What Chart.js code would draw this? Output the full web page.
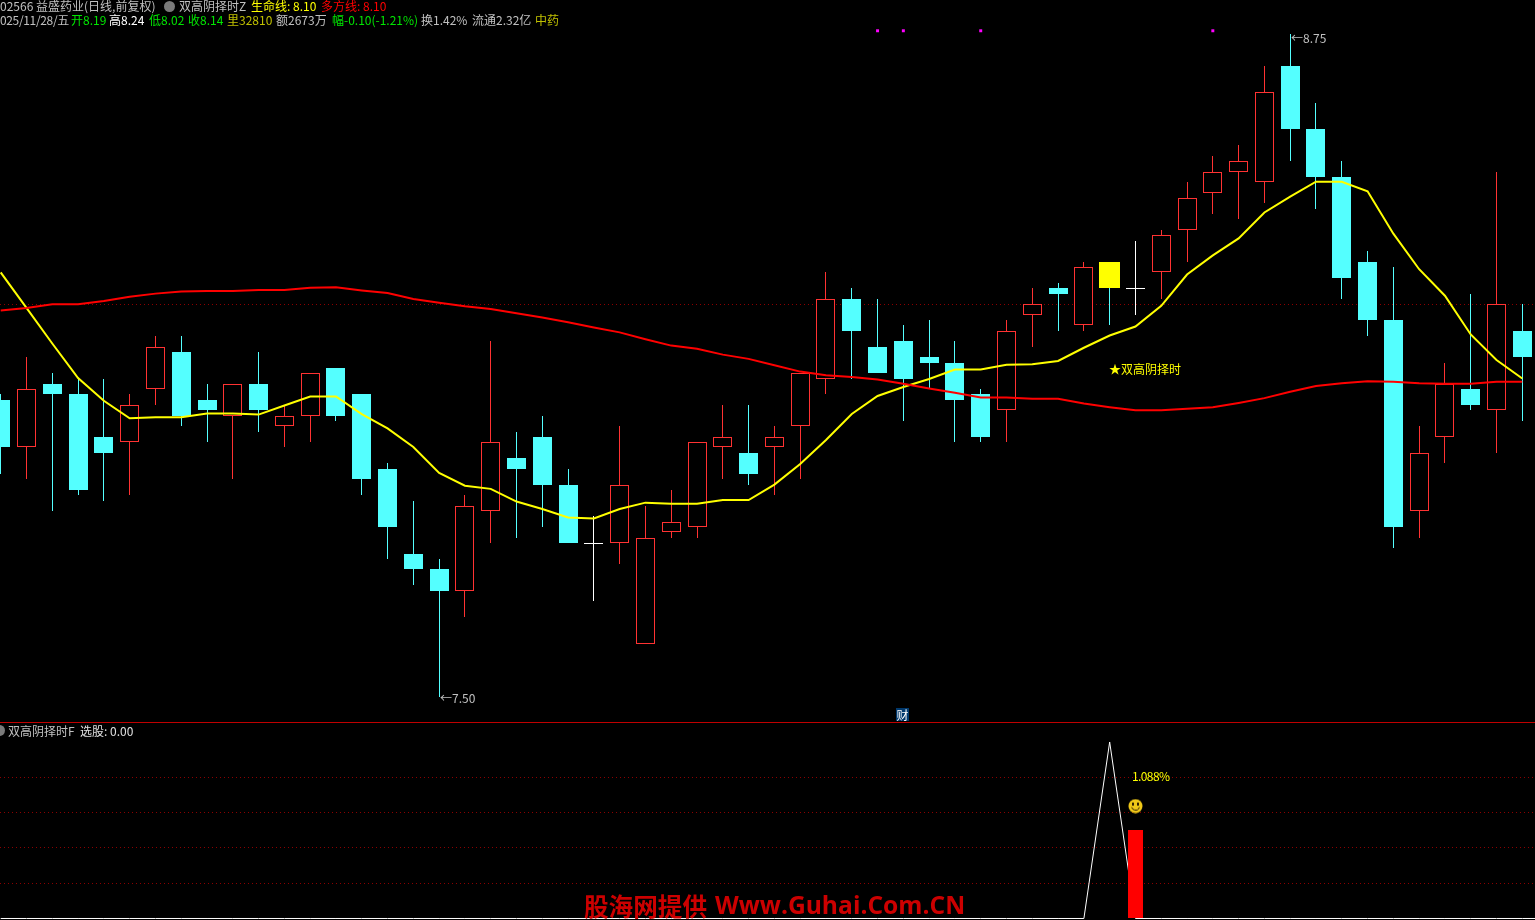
<!DOCTYPE html>
<html>
<head>
<meta charset="utf-8">
<title>益盛药业 日线</title>
<script src="https://cdn.jsdelivr.net/npm/chart.js@4"></script>
<style>
  html, body { margin: 0; padding: 0; background: #000; width: 1535px; height: 920px; overflow: hidden; }
  canvas { position: absolute; left: 0; }
  #priceChart { top: 0; }
  #signalChart { top: 723px; }
  #divider { position: absolute; left: 0; top: 722px; width: 1535px; height: 1px; background: #c00000; }
  .t { position: absolute; white-space: nowrap; font: 12px/14px "Noto Sans CJK SC", sans-serif; color: #c0c0c0; }
  .icon { position: absolute; width: 11px; height: 11px; border-radius: 50%; background: #7a7a7a; }
  #cai { left: 896px; top: 708px; width: 13px; height: 13px; background: #00386c; color: #fff; text-align: center; line-height: 13px; }
  #mark { position: absolute; left: 584px; top: 888px; white-space: nowrap; color: #cc0000; font: bold 24.6px/34px "Noto Sans CJK SC", sans-serif; }
  #mark b { position: absolute; left: 131px; top: 0; font: bold 24.6px/34px "Open Sans", sans-serif; }
</style>
</head>
<body>
<canvas id="priceChart" width="1535" height="722"></canvas>
<canvas id="signalChart" width="1535" height="197"></canvas>
<div id="divider"></div>

<div class="t" style="left:0;top:-1px">02566 益盛药业(日线,前复权)</div>
<div class="icon" style="left:164px;top:1px"></div>
<div class="t" style="left:179px;top:-1px">双高阴择时Z</div>
<div class="t" style="left:251px;top:-1px;color:#ffff00">生命线: 8.10</div>
<div class="t" style="left:321px;top:-1px;color:#ff0000">多方线: 8.10</div>

<div class="t" style="left:0;top:13px;letter-spacing:-0.35px">025/11/28/五</div>
<div class="t" style="left:71px;top:13px;color:#00e600">开8.19</div>
<div class="t" style="left:109px;top:13px;color:#fff">高8.24</div>
<div class="t" style="left:149px;top:13px;color:#00e600">低8.02</div>
<div class="t" style="left:188px;top:13px;color:#00e600">收8.14</div>
<div class="t" style="left:227px;top:13px;color:#c0c000">里32810</div>
<div class="t" style="left:276px;top:13px">额2673万</div>
<div class="t" style="left:332px;top:13px;color:#00e600">幅-0.10(-1.21%)</div>
<div class="t" style="left:421px;top:13px">换1.42%</div>
<div class="t" style="left:472px;top:13px">流通2.32亿</div>
<div class="t" style="left:535px;top:13px;color:#c0c000">中药</div>

<div class="t" style="left:1291px;top:31px">←8.75</div>
<div class="t" style="left:440px;top:691px">←7.50</div>
<div class="t" style="left:1109px;top:362px;color:#ffff00">★双高阴择时</div>
<div class="t" id="cai">财</div>

<div class="icon" style="left:-6px;top:725px"></div>
<div class="t" style="left:8px;top:724px">双高阴择时F</div>
<div class="t" style="left:80px;top:724px;color:#e0e0e0">选股: 0.00</div>
<div class="t" style="left:1132px;top:769px;color:#ffff00;letter-spacing:-0.6px">1.088%</div>

<div id="mark">股海网提供 <b>Www.Guhai.Com.CN</b></div>

<script>
var opens = [8.06,7.97,8.09,8.07,7.99,7.98,8.08,8.15,8.06,8.03,8.09,8.01,8.03,8.12,8.07,7.93,7.77,7.74,7.70,7.85,
  7.95,7.99,7.90,7.79,7.79,7.60,7.81,7.82,7.97,7.96,7.97,8.01,8.10,8.25,8.16,8.17,8.14,8.13,8.07,8.04,
  8.22,8.27,8.20,8.32,8.27,8.30,8.38,8.45,8.49,8.47,8.69,8.57,8.48,8.32,8.21,7.85,7.99,8.08,8.04,8.19];
var highs = [8.07,8.14,8.11,8.10,8.10,8.07,8.18,8.18,8.09,8.09,8.15,8.05,8.11,8.12,8.07,7.94,7.87,7.76,7.88,8.17,
  8.00,8.03,7.93,7.84,8.01,7.86,7.89,7.98,8.05,8.05,8.01,8.11,8.30,8.27,8.25,8.20,8.21,8.17,8.08,8.21,
  8.27,8.28,8.32,8.32,8.36,8.38,8.47,8.52,8.54,8.69,8.75,8.62,8.51,8.34,8.31,8.01,8.13,8.26,8.49,8.24];
var lows = [7.92,7.91,7.85,7.88,7.87,7.88,8.05,8.01,7.98,7.91,8.00,7.97,7.98,8.02,7.88,7.76,7.71,7.50,7.65,7.79,
  7.80,7.82,7.79,7.68,7.75,7.60,7.80,7.80,7.91,7.90,7.88,7.91,8.07,8.10,8.11,8.02,8.08,7.98,7.98,7.98,
  8.16,8.19,8.19,8.20,8.22,8.25,8.32,8.41,8.40,8.43,8.51,8.42,8.25,8.18,7.78,7.80,7.94,8.04,7.96,8.02];
var closes = [7.97,8.08,8.07,7.89,7.96,8.05,8.16,8.03,8.04,8.09,8.04,8.03,8.11,8.03,7.91,7.82,7.74,7.70,7.86,7.98,
  7.93,7.90,7.79,7.79,7.90,7.80,7.83,7.98,7.99,7.92,7.99,8.11,8.25,8.19,8.11,8.10,8.13,8.06,7.99,8.19,
  8.24,8.26,8.31,8.27,8.27,8.37,8.44,8.49,8.51,8.64,8.57,8.48,8.29,8.21,7.82,7.96,8.09,8.05,8.24,8.14];

// 生命线
var lifeLine = [8.300,8.233,8.166,8.101,8.058,8.025,8.027,8.027,8.034,8.034,8.032,8.049,8.066,8.066,8.033,8.006,7.971,7.922,7.898,7.892,
  7.868,7.854,7.838,7.836,7.854,7.866,7.864,7.864,7.871,7.871,7.900,7.939,7.984,8.033,8.067,8.084,8.099,8.117,8.117,8.126,
  8.127,8.133,8.158,8.181,8.198,8.237,8.296,8.332,8.364,8.413,8.443,8.471,8.471,8.453,8.373,8.306,8.256,8.183,8.135,8.100];
// 多方线
var bullLine = [8.228,8.233,8.240,8.240,8.246,8.254,8.260,8.264,8.265,8.265,8.267,8.267,8.271,8.272,8.266,8.261,8.250,8.243,8.236,8.231,
  8.223,8.215,8.206,8.196,8.187,8.174,8.162,8.156,8.145,8.137,8.125,8.113,8.106,8.103,8.098,8.090,8.081,8.073,8.064,8.064,
  8.062,8.062,8.053,8.046,8.040,8.040,8.043,8.046,8.054,8.063,8.075,8.086,8.091,8.095,8.094,8.091,8.090,8.090,8.094,8.094];

var signalDays = [43];      // yellow candle
var markerDays = [34, 35, 38, 47];  // magenta dots on top
var markerPrice = 8.7555;
var priceGrid = [8.24];

// lower panel
var pickDays = [42, 43, 44];
var pickValues = [0, 1, 0];
var barDays = [44];
var barValues = [0.5];
var faceDays = [44];
var faceValues = [0.637];
var panelGrid = [0.2, 0.4, 0.6, 0.8];

var RED = "#ff3232", CYAN = "#54ffff", WHITE = "#ffffff";

var xMin = -0.02714, xMax = 59.4921;

// keep bars on whole pixels, like the original terminal
var snapBars = {
  id: "snapBars",
  beforeDatasetDraw: function (chart, args) {
    if (args.meta.type !== "bar") return;
    args.meta.data.forEach(function (el) {
      if (el.skip) return;
      el.x = Math.floor(el.x) + 0.5;
      el.y = Math.round(el.y);
      el.base = Math.round(el.base);
      if (el.y === el.base) el.base = el.y + 1;
    });
  },
};

function candleColor(i) {
  if (closes[i] > opens[i]) return RED;
  if (closes[i] < opens[i]) return CYAN;
  return WHITE;
}

var wickData = [], bodyData = [], wickColors = [], bodyFill = [], bodyEdge = [];
var lifeData = [], bullData = [];
opens.forEach(function (o, i) {
  var col = candleColor(i);
  wickData.push({ x: i, y: [lows[i], highs[i]] });
  wickColors.push(col);
  lifeData.push({ x: i, y: lifeLine[i] });
  bullData.push({ x: i, y: bullLine[i] });
  if (signalDays.indexOf(i) >= 0) return;
  bodyData.push({ x: i, y: [o, closes[i]] });
  bodyFill.push(col === RED ? "#000000" : col);
  bodyEdge.push(col);
});

function hiddenX() {
  return { type: "linear", min: xMin, max: xMax, offset: false, display: false };
}

function gridY(min, max, values, color) {
  return {
    type: "linear",
    min: min,
    max: max,
    afterBuildTicks: function (scale) {
      scale.ticks = values.map(function (v) { return { value: v }; });
    },
    ticks: { display: false },
    border: { display: false, dash: [1, 3] },
    grid: { color: color, drawTicks: false, lineWidth: 1 },
  };
}

var common = {
  responsive: false,
  animation: false,
  devicePixelRatio: 1,
  layout: { padding: 0, autoPadding: false },
  plugins: { legend: { display: false }, tooltip: { enabled: false } },
};

new Chart(document.getElementById("priceChart"), {
  type: "bar",
  plugins: [snapBars],
  data: {
    datasets: [
      { type: "scatter", data: markerDays.map(function (d) { return { x: d, y: markerPrice }; }),
        pointStyle: "rect", pointRadius: 2.1, pointBorderWidth: 0, pointBackgroundColor: "#ff00ff", order: 0 },
      { type: "line", data: bullData, borderColor: "#ff0000", borderWidth: 2, pointRadius: 0, tension: 0, order: 1 },
      { type: "line", data: lifeData, borderColor: "#ffff00", borderWidth: 2, pointRadius: 0, tension: 0, order: 2 },
      { data: signalDays.map(function (d) { return { x: d, y: [opens[d], closes[d]] }; }),
        backgroundColor: "#ffff00", barThickness: 21, grouped: false, inflateAmount: 0, order: 3 },
      { data: bodyData, backgroundColor: bodyFill, borderColor: bodyEdge, borderWidth: 1, borderSkipped: false,
        barThickness: 19, grouped: false, inflateAmount: 0, order: 4 },
      { data: wickData, backgroundColor: wickColors, barThickness: 1, grouped: false, inflateAmount: 0, order: 5 },
    ],
  },
  options: Object.assign({}, common, {
    scales: {
      x: hiddenX(),
      y: gridY(7.4525, 8.8135, priceGrid, "#8c0000"),
    },
  }),
});

// smiley for the lower panel
var face = document.createElement("canvas");
face.width = 15;
face.height = 15;
var f = face.getContext("2d");
f.fillStyle = "#f0c818";
f.beginPath();
f.arc(7.5, 7.5, 7, 0, Math.PI * 2);
f.fill();
f.fillStyle = "#302000";
f.fillRect(4, 4, 2, 3);
f.fillRect(9, 4, 2, 3);
f.strokeStyle = "#302000";
f.beginPath();
f.arc(7.5, 7.5, 4, 0.3, Math.PI - 0.3);
f.stroke();

var pickData = [];
for (var i = 0; i < opens.length; i++) {
  var at = pickDays.indexOf(i);
  pickData.push({ x: i, y: at >= 0 ? pickValues[at] : 0 });
}
pickData.push({ x: xMax, y: 0 });

new Chart(document.getElementById("signalChart"), {
  type: "bar",
  plugins: [snapBars],
  data: {
    datasets: [
      { type: "scatter", data: faceDays.map(function (d, n) { return { x: d, y: faceValues[n] }; }),
        pointStyle: face, order: 0 },
      { data: barDays.map(function (d, n) { return { x: d, y: barValues[n] }; }),
        backgroundColor: "#ff0000", barThickness: 15, grouped: false, inflateAmount: 0, order: 1 },
      { type: "line", data: pickData, borderColor: WHITE, borderWidth: 1, pointRadius: 0, tension: 0, order: 2 },
    ],
  },
  options: Object.assign({}, common, {
    scales: {
      x: hiddenX(),
      y: gridY(-0.0085, 1.1076, panelGrid, "#8c0000"),
    },
  }),
});
</script>
</body>
</html>
